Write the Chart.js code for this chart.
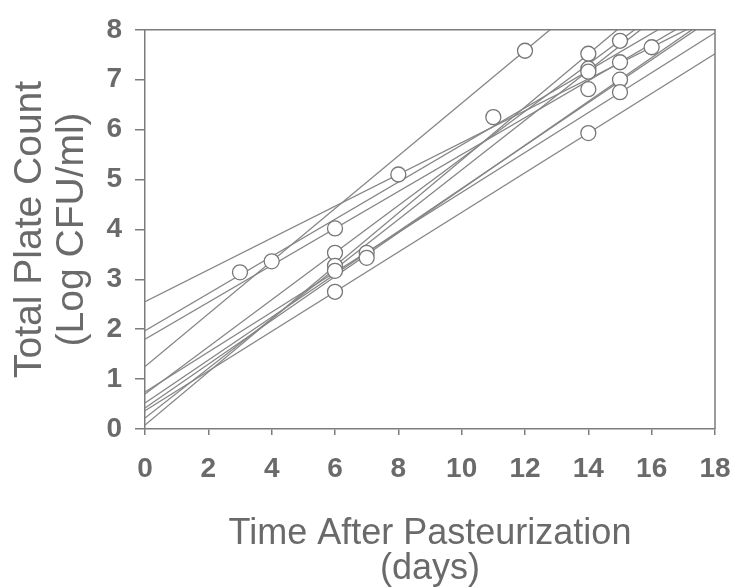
<!DOCTYPE html>
<html>
<head>
<meta charset="utf-8">
<script src="https://cdn.jsdelivr.net/npm/chart.js@4.4.1/dist/chart.umd.min.js"></script>
<style>
  html, body { margin: 0; padding: 0; background: #ffffff; }
  #wrap { width: 736px; height: 588px; }
</style>
</head>
<body>
<div id="wrap"><canvas id="chart" width="736" height="588"></canvas></div>
<script>
// observed counts (days after pasteurization, log CFU/ml)
const pointDays = [3, 4, 6, 6, 6, 6, 6, 7, 7, 8, 11, 12, 14, 14, 14, 14, 14, 15, 15, 15, 15, 16];
const pointCounts = [3.14, 3.36, 4.02, 3.53, 3.27, 3.17, 2.75, 3.53, 3.43, 5.10, 6.25, 7.58,
                     7.52, 7.22, 7.16, 6.81, 5.93, 7.78, 7.35, 7.00, 6.75, 7.65];

// fitted growth lines: value at day 0 and at day 18 (clipped by the plot box)
const lineDays = [0, 18];
const lineStart = [2.55, 1.97, 1.80, 1.25, 0.365, 0.08, 0.70, 0.22, 0.42, 0.74, 0.52];
const lineEnd = [8.29, 8.67, 8.46, 10.75, 7.52, 9.64, 9.20, 9.17, 8.32, 7.94, 8.26];

const xTitle = ['Time After Pasteurization', '(days)'];
const yTitle = ['Total Plate Count', '(Log CFU/ml)'];

const grey = '#7c7c7c';
const textGrey = '#6a6a6a';
const fontFamily = 'Arial, "Liberation Sans", sans-serif';

const datasets = [];
datasets.push({
  label: 'counts',
  data: pointDays.map((d, i) => ({ x: d, y: pointCounts[i] })),
  pointRadius: 7.5,
  pointBorderWidth: 1.3,
  pointBorderColor: '#777777',
  pointBackgroundColor: '#ffffff',
  showLine: false,
  order: 0
});
lineStart.forEach((s, i) => {
  datasets.push({
    label: 'fit ' + (i + 1),
    data: [{ x: lineDays[0], y: s }, { x: lineDays[1], y: lineEnd[i] }],
    showLine: true,
    borderColor: '#858585',
    borderWidth: 1.3,
    pointRadius: 0,
    order: 1
  });
});

// closes the box on the top and right
const boxPlugin = {
  id: 'box',
  afterDraw(chart) {
    const { ctx, chartArea: a } = chart;
    ctx.save();
    ctx.strokeStyle = grey;
    ctx.lineWidth = 1.5;
    ctx.beginPath();
    ctx.moveTo(a.left, a.top);
    ctx.lineTo(a.right, a.top);
    ctx.lineTo(a.right, a.bottom);
    ctx.stroke();
    ctx.restore();
  }
};

new Chart(document.getElementById('chart'), {
  type: 'scatter',
  data: { datasets },
  options: {
    responsive: false,
    animation: false,
    layout: { padding: { top: 22, right: 21, left: 0, bottom: 0 } },
    plugins: { legend: { display: false }, tooltip: { enabled: false } },
    scales: {
      x: {
        type: 'linear', min: 0, max: 18,
        afterFit(scale) {
          scale.height = 159;
          scale.paddingLeft = 0;
          scale.paddingRight = 0;
        },
        ticks: { stepSize: 2, color: textGrey, padding: 17, font: { family: fontFamily, size: 28, weight: 'bold' } },
        grid: { drawOnChartArea: false, drawTicks: true, tickLength: 6, color: grey, lineWidth: 1.5 },
        border: { display: true, color: grey, width: 1.5 },
        title: {
          display: true, text: xTitle, color: textGrey,
          font: { family: fontFamily, size: 36, lineHeight: 35 / 36 },
          padding: { top: 0, bottom: 1 }
        }
      },
      y: {
        type: 'linear', min: 0, max: 8,
        afterFit(scale) { scale.width = 145; },
        ticks: { stepSize: 1, color: textGrey, padding: 13, font: { family: fontFamily, size: 28, weight: 'bold' } },
        grid: { drawOnChartArea: false, drawTicks: true, tickLength: 10, color: grey, lineWidth: 1.5 },
        border: { display: true, color: grey, width: 1.5 },
        title: {
          display: true, text: yTitle, color: textGrey,
          font: { family: fontFamily, size: 39, lineHeight: 42 / 39 },
          padding: { top: 9, bottom: 0 }
        }
      }
    }
  },
  plugins: [boxPlugin]
});
</script>
</body>
</html>
